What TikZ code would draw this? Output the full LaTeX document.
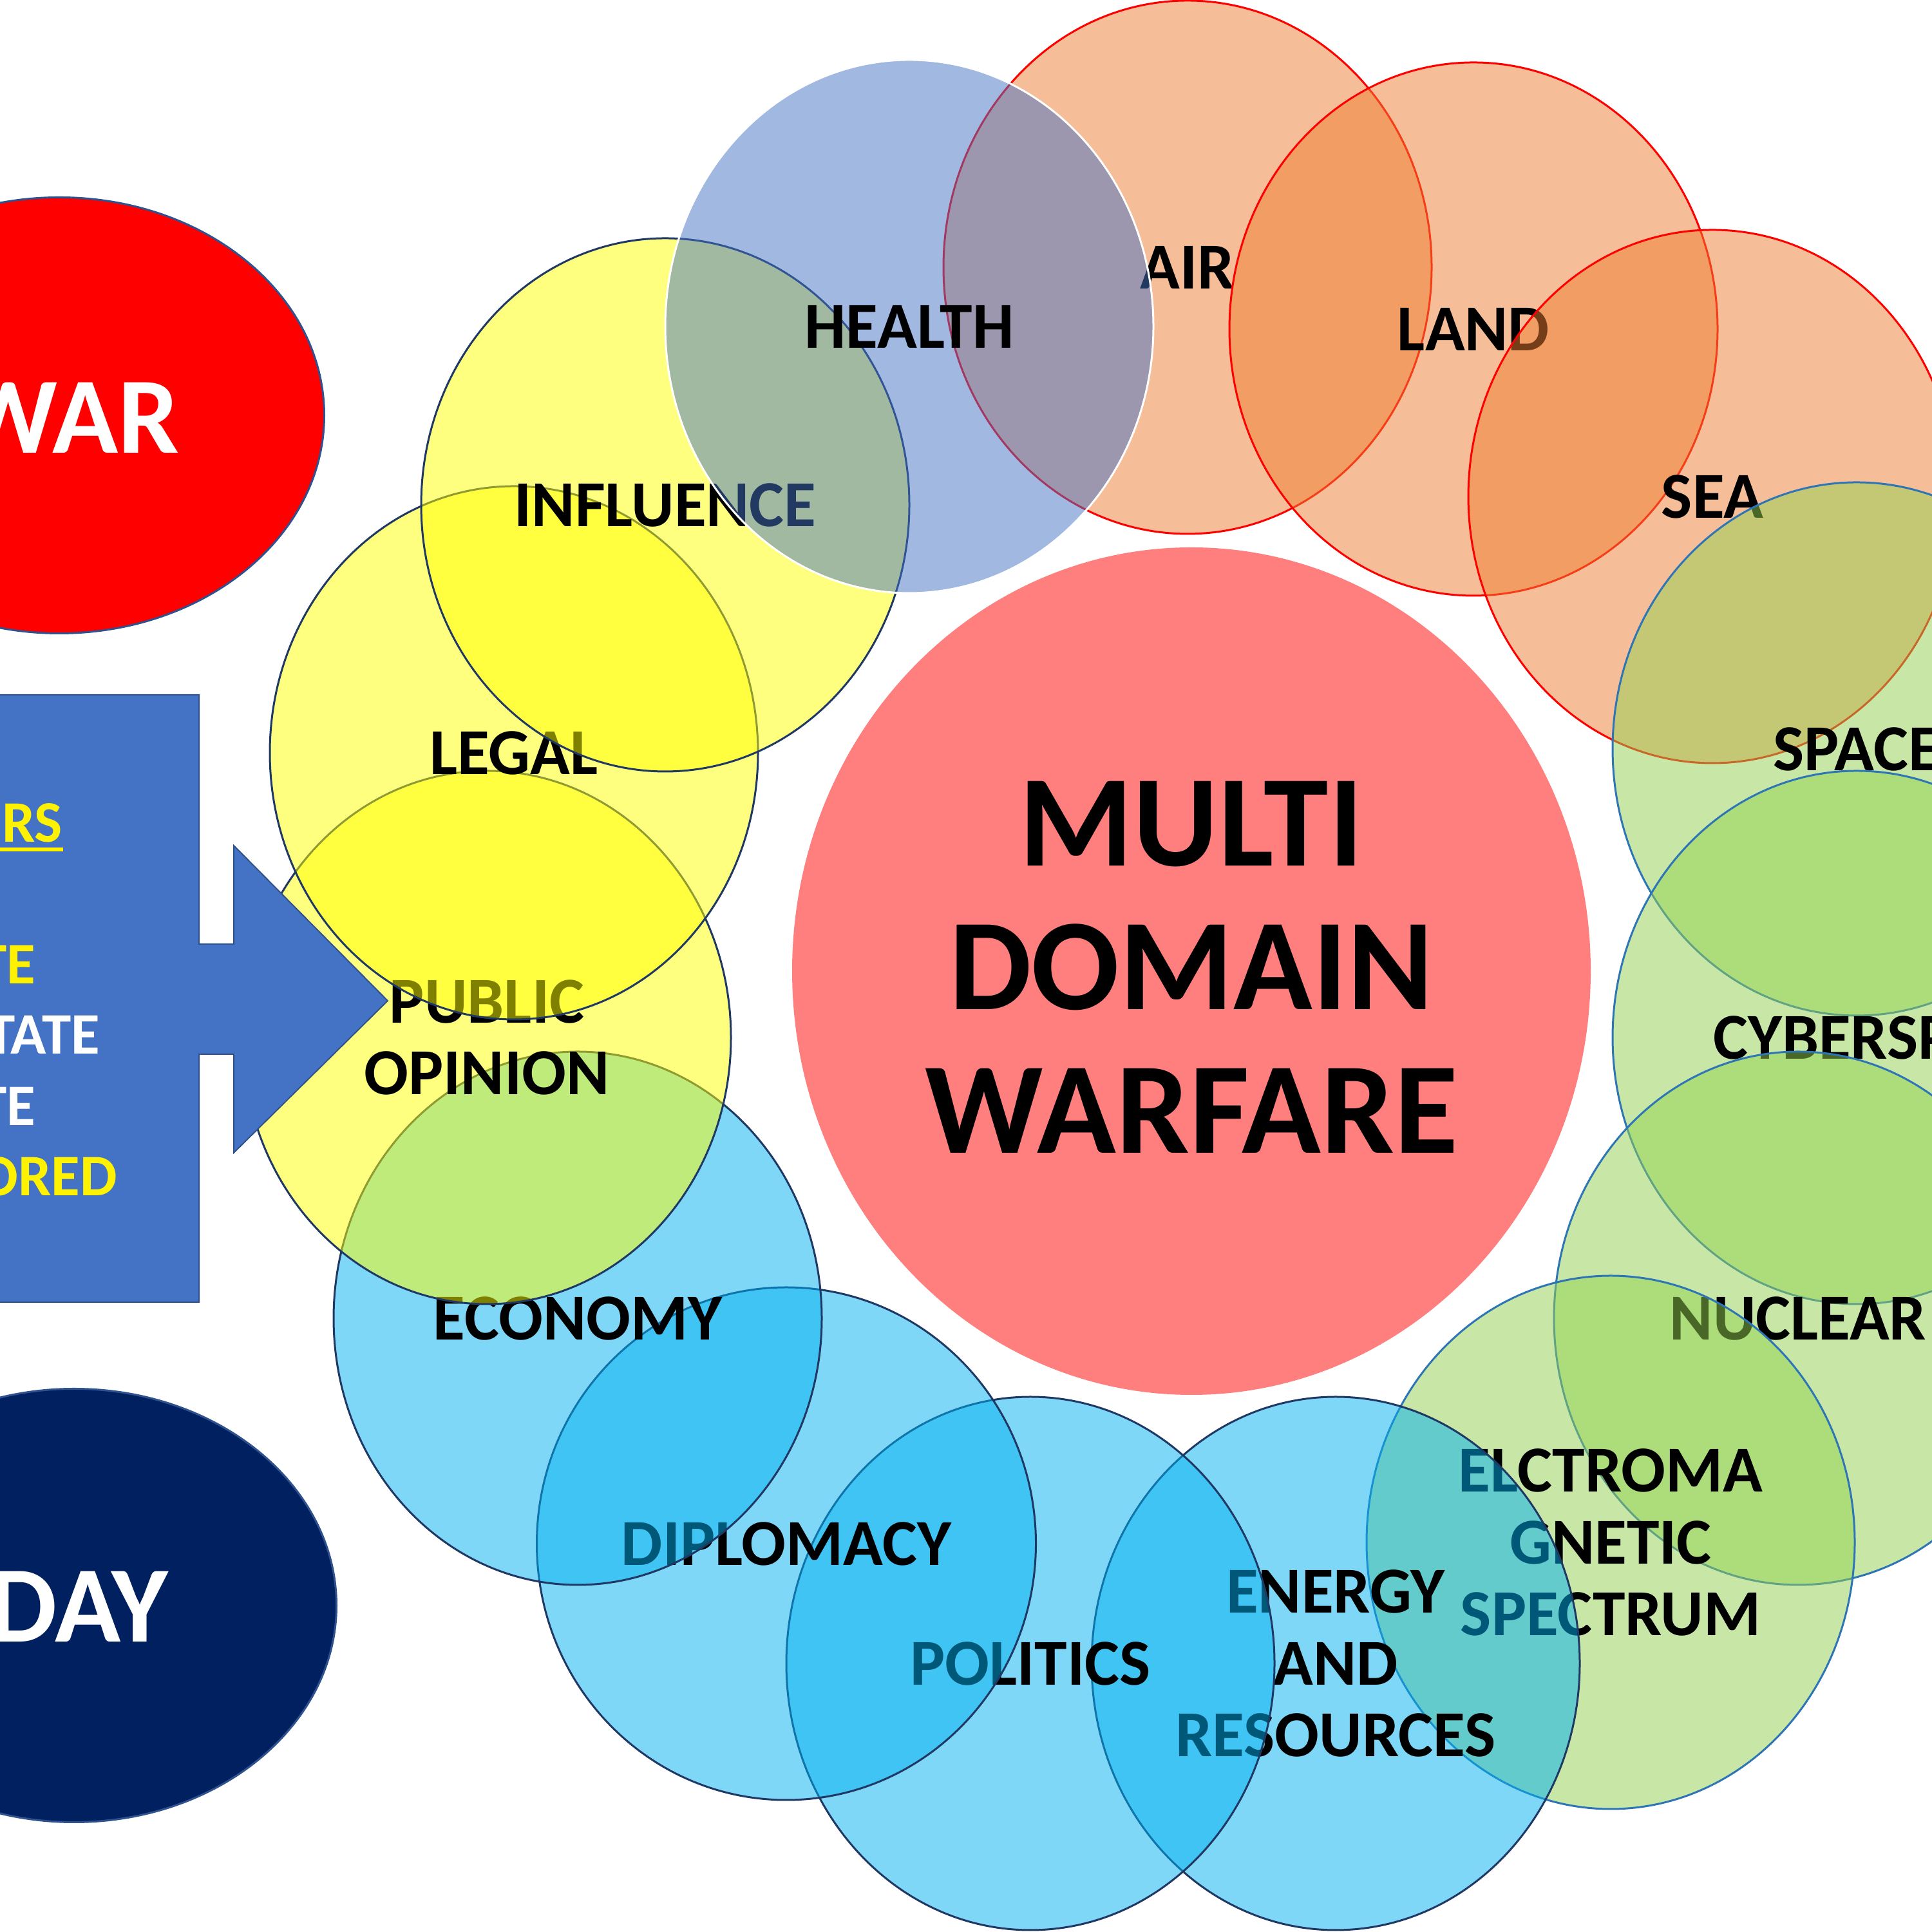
\documentclass[tikz,border=0pt]{standalone}
\usepackage{fontspec}
\setmainfont{Carlito}
\usetikzlibrary{shapes.geometric}
\definecolor{orangefill}{HTML}{ED7D31}
\definecolor{yellowfill}{HTML}{FFFF00}
\definecolor{bluefill}{HTML}{00B0F0}
\definecolor{greenfill}{HTML}{92D050}
\definecolor{healthfill}{HTML}{4472C4}
\definecolor{navyline}{HTML}{1F3864}
\definecolor{greenline}{HTML}{2E75B6}
\definecolor{shapeline}{HTML}{2F528F}
\definecolor{dayfill}{HTML}{002060}
\tikzset{
	ringnode/.style={ellipse, inner sep=0pt, minimum width=7.58cm, minimum height=8.28cm, align=center,
		fill opacity=0.5, text opacity=1, line width=0.03cm, text=black,
		font=\fontsize{29}{31.6}\selectfont\bfseries},
	sidenode/.style={ellipse, inner sep=0pt, draw=shapeline, line width=0.03cm},
	sidetext/.style={anchor=base east, text=white, inner sep=0pt, font=\fontsize{48}{50}\selectfont\bfseries},
	listtext/.style={anchor=base east, inner sep=0pt, font=\fontsize{26}{28}\selectfont\bfseries}
}

\begin{document}
\begin{tikzpicture}
		%%%%% START %%%%%
		\useasboundingbox (0, 0) rectangle (30, 30);
		\clip (0, 0) rectangle (30, 30);
		
		\node[sidenode, fill=red, minimum width=8.23cm, minimum height=6.77cm] (warshape) at (0.92, 23.55) {};
		\node[sidetext] (wartext) at (2.79, 22.96) {WAR};
		
		\node[sidenode, fill=dayfill, minimum width=8.15cm, minimum height=6.73cm] (dayshape) at (1.15, 5.07) {};
		\node[sidetext] (daytext) at (2.62, 4.5) {DAY};
		
		\node[ellipse, inner sep=0pt, minimum width=12.4cm, minimum height=13.16cm, fill=red, fill opacity=0.5] (multi) at (18.5, 14.92) {};
		\node[align=center, inner sep=0pt, font=\fontsize{57.6}{63.4}\selectfont\bfseries] (multitext) at (18.5, 14.98) {MULTI\\DOMAIN\\WARFARE};
		
		\node[ringnode, draw=red, fill=orangefill] (air) at (18.44, 25.85) {AIR};
		\node[ringnode, draw=red, fill=orangefill] (land) at (22.88, 24.89) {LAND};
		\node[ringnode, draw=red, fill=orangefill] (sea) at (26.59, 22.29) {SEA};
		
		\node[ringnode, draw=greenline, fill=greenfill] (space) at (28.83, 18.37) {SPACE};
		\node[ringnode, draw=greenline, fill=greenfill] (cyber) at (28.83, 13.89) {\makebox[0pt]{\hspace*{0.84cm}CYBERSPACE}};
		\node[ringnode, draw=greenline, fill=greenfill] (nuclear) at (27.92, 9.53) {NUCLEAR};
		\node[ringnode, draw=greenline, fill=greenfill] (spectrum) at (25.01, 6.05) {ELCTROMA\\GNETIC\\SPECTRUM};
		
		\node[ringnode, draw=navyline, fill=bluefill] (energy) at (20.74, 4.17) {ENERGY\\AND\\RESOURCES};
		\node[ringnode, draw=navyline, fill=bluefill] (politics) at (16, 4.17) {POLITICS};
		\node[ringnode, draw=navyline, fill=bluefill, minimum width=7.75cm, minimum height=7.96cm] (diplomacy) at (12.21, 6.03) {DIPLOMACY};
		\node[ringnode, draw=navyline, fill=bluefill] (economy) at (8.97, 9.53) {ECONOMY};
		
		\node[ringnode, draw=navyline, fill=yellowfill] (opinion) at (7.56, 13.89) {PUBLIC\\OPINION};
		\node[ringnode, draw=navyline, fill=yellowfill] (legal) at (7.98, 18.31) {LEGAL};
		\node[ringnode, draw=navyline, fill=yellowfill] (influence) at (10.33, 22.16) {INFLUENCE};
		
		\node[ringnode, draw=white, fill=healthfill] (health) at (14.12, 24.93) {HEALTH};
		
		\draw[line width=0.02cm, draw=shapeline, fill=healthfill] (-0.1, 19.21) -- (3.09, 19.21) -- (3.09, 15.34) -- (3.63, 15.34) -- (3.63, 16.87) -- (6.02, 14.46) -- (3.63, 12.1) -- (3.63, 13.63) -- (3.09, 13.63) -- (3.09, 9.78) -- (-0.1, 9.78) -- cycle;
		
		\node[listtext, text=yellow] (actors) at (0.975, 16.92) {ERS};
		\draw[line width=0.06cm, color=yellow] (-0.1, 16.81) -- (0.975, 16.81);
		\node[listtext, text=yellow] (state) at (0.56, 14.72) {TE};
		\node[listtext, text=white] (nonstate) at (1.556, 13.63) {TATE};
		\node[listtext, text=white] (private) at (0.56, 12.52) {TE};
		\node[listtext, text=yellow] (sponsored) at (1.826, 11.43) {ORED};
		
		%%%%% END %%%%%
	\end{tikzpicture}
\end{document}
